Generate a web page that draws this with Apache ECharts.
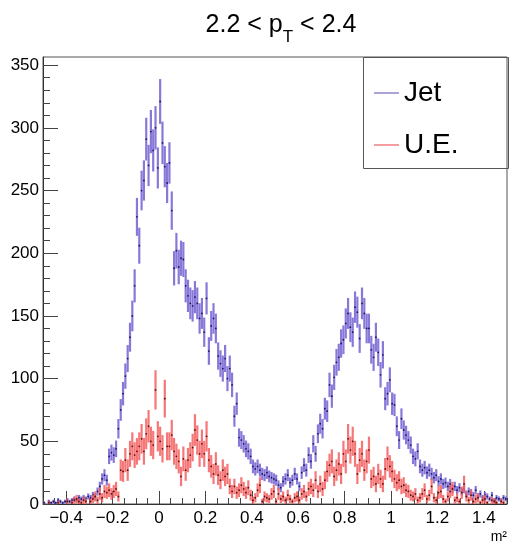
<!DOCTYPE html>
<html><head><meta charset="utf-8">
<script src="https://cdn.jsdelivr.net/npm/echarts@6/dist/echarts.min.js"></script>
<style>html,body{margin:0;padding:0;background:#fff}#c{width:510px;height:547px}</style>
</head><body><div id="c"></div>
<script>
// Histogram: 200 bins of width 0.01 from -0.5 to 1.5
const binStart = -0.5;
const binWidth = 0.01;

const jetCounts = [
  1,0,2,1,2,1,3,2,1,2,
  3,2,3,4,3,5,4,5,4,6,
  5,7,6,10,14,20,23,19,38,41,
  39,44,60,75,88,102,116,133,150,174,
  229,206,250,258,291,270,297,282,300,268,
  321,288,269,256,272,234,188,202,189,196,
  195,174,166,160,158,165,160,148,152,137,
  164,122,142,148,140,118,112,108,116,100,
  108,95,70,80,53,51,48,44,42,38,
  30,28,30,27,24,23,25,22,21,20,
  19,15,13,18,20,23,17,19,24,20,
  14,25,31,27,39,34,48,40,56,64,
  60,76,74,95,86,101,113,117,128,131,
  144,152,141,137,157,153,132,160,152,140,
  140,123,117,133,121,103,119,84,88,99,
  80,79,62,51,68,59,55,51,47,38,
  36,42,30,27,29,25,27,24,21,23,
  18,20,16,17,14,16,12,14,11,13,
  10,12,8,10,9,7,11,6,8,5,
  7,6,4,7,3,5,4,3,5,4
];

const ueCounts = [
  0,0,1,0,0,0,1,0,0,0,
  2,0,1,3,4,2,1,3,2,0,
  2,4,6,3,8,5,10,9,11,8,
  10,12,6,27,26,35,27,40,46,39,
  42,46,52,42,56,62,50,47,91,54,
  50,44,84,46,46,55,42,38,34,22,
  36,27,35,39,45,59,51,40,48,40,
  54,35,30,24,32,23,19,27,22,24,
  14,10,14,9,11,15,12,9,13,7,
  3,5,11,15,2,6,5,4,8,10,
  2,8,4,6,3,7,4,2,5,6,
  3,8,10,6,12,14,11,19,10,16,
  12,19,26,31,34,22,27,32,24,40,
  34,52,43,50,40,24,35,40,27,34,
  43,20,22,16,24,20,16,28,36,30,
  26,20,17,19,14,15,11,10,7,6,
  8,3,5,8,11,4,7,14,5,3,
  9,10,4,2,6,10,12,3,5,2,
  9,16,6,3,7,2,4,5,1,3,
  4,1,0,3,2,1,0,2,1,0
];

// U.E. histogram is weighted: error = sqrt(weight * content)
const jetWeight = 1.0;
const ueWeight = 2.7;

const seriesNames = ['Jet', 'U.E.'];
const xMajorTicks = [-0.4, -0.2, 0, 0.2, 0.4, 0.6, 0.8, 1.0, 1.2, 1.4];
const yMajorTicks = [0, 50, 100, 150, 200, 250, 300, 350];
const xMin = -0.5, xMax = 1.5, yMin = 0, yMax = 356.5;

const xMinorTicks = [];
for (let k = 0; k <= 40; k++) xMinorTicks.push(+(xMin + k * 0.05).toFixed(3));
const yMinorTicks = [];
for (let k = 0; k <= 35; k++) yMinorTicks.push(k * 10);

function toPoints(counts, w) {
  return counts.map((c, i) => [+(binStart + (i + 0.5) * binWidth).toFixed(4), c, Math.sqrt(w * c)]);
}

function errRender(barColor, dotColor) {
  return function (params, api) {
    const x = api.value(0), v = api.value(1), e = api.value(2);
    if (v <= 0) return null;
    const top = api.coord([x, v + e]);
    const bot = api.coord([x, Math.max(v - e, 0)]);
    const c = api.coord([x, v]);
    return {
      type: 'group',
      children: [
        { type: 'line', shape: { x1: top[0], y1: top[1], x2: bot[0], y2: bot[1] }, style: { stroke: barColor, lineWidth: 2.2 } },
        { type: 'circle', shape: { cx: c[0], cy: c[1], r: 0.9 }, style: { fill: dotColor } }
      ]
    };
  };
}

const fmt = v => {
  const r = Math.round(v * 10) / 10;
  const s = String(Math.abs(r));
  return r < 0 ? '\u2212' + s : s;
};

const FONT = 'Liberation Sans, Arial, sans-serif';
const legendLine = 'path://M0,9.25 L25,9.25 L25,10.75 L0,10.75 Z M0,0 L0.01,0 L0.01,0.01 Z M25,20 L24.99,20 L24.99,19.99 Z';

const chart = echarts.init(document.getElementById('c'), null, { renderer: 'canvas' });
chart.setOption({
  backgroundColor: '#fff',
  animation: false,
  title: {
    text: '{a|2.2 < p}{s|T}{a| < 2.4}',
    left: 276, top: 3, textAlign: 'center',
    textStyle: {
      fontWeight: 'normal',
      rich: {
        a: { fontFamily: FONT, fontSize: 25, fontWeight: 'normal', color: '#000', verticalAlign: 'bottom', lineHeight: 30 },
        s: { fontFamily: FONT, fontSize: 17, fontWeight: 'normal', color: '#000', verticalAlign: 'bottom', lineHeight: 30, padding: [0, 0, -8, 0] }
      }
    }
  },
  legend: {
    orient: 'vertical',
    left: 369, top: 73,
    itemWidth: 25, itemHeight: 20, itemGap: 22,
    itemStyle: { borderWidth: 0 },
    textStyle: { fontFamily: FONT, fontSize: 28, color: '#000', lineHeight: 30 },
    data: [
      { name: 'Jet', icon: legendLine, itemStyle: { color: '#8f88c9', borderWidth: 0 } },
      { name: 'U.E.', icon: legendLine, itemStyle: { color: '#f08080', borderWidth: 0 } }
    ]
  },
  graphic: [
    { type: 'rect', left: 363, top: 57, shape: { width: 145, height: 111 }, style: { fill: 'rgba(255,255,255,0)', stroke: '#555', lineWidth: 1 }, z: 10 }
  ],
  grid: { left: 43, right: 2, top: 57, bottom: 43, show: true, borderColor: '#555', borderWidth: 1, backgroundColor: '#fff' },
  xAxis: [
    {
      type: 'value', min: xMin, max: xMax,
      name: 'm\u00b2', nameLocation: 'end', nameGap: 0,
      nameTextStyle: { fontFamily: FONT, fontSize: 14, color: '#000', align: 'right', verticalAlign: 'top', padding: [26, 0, 0, 0] },
      axisLine: { show: true, onZero: false, lineStyle: { color: '#333', width: 1 } },
      axisTick: { show: true, inside: true, length: 13, customValues: xMajorTicks, lineStyle: { color: '#444' } },
      axisLabel: { show: true, customValues: xMajorTicks, formatter: fmt, margin: 6, fontFamily: FONT, fontSize: 17, color: '#000' },
      splitLine: { show: false }
    },
    {
      type: 'value', min: xMin, max: xMax, position: 'bottom',
      axisLine: { show: false, onZero: false },
      axisTick: { show: true, inside: true, length: 6, customValues: xMinorTicks, lineStyle: { color: '#444' } },
      axisLabel: { show: false },
      splitLine: { show: false }
    }
  ],
  yAxis: [
    {
      type: 'value', min: yMin, max: yMax,
      axisLine: { show: true, onZero: false, lineStyle: { color: '#333', width: 1 } },
      axisTick: { show: true, inside: true, length: 15, customValues: yMajorTicks, lineStyle: { color: '#444' } },
      axisLabel: { show: true, customValues: yMajorTicks, margin: 4, fontFamily: FONT, fontSize: 17, color: '#000' },
      splitLine: { show: false }
    },
    {
      type: 'value', min: yMin, max: yMax, position: 'left',
      axisLine: { show: false, onZero: false },
      axisTick: { show: true, inside: true, length: 7, customValues: yMinorTicks, lineStyle: { color: '#444' } },
      axisLabel: { show: false },
      splitLine: { show: false }
    }
  ],
  series: [
    {
      name: seriesNames[0], type: 'custom', xAxisIndex: 0, yAxisIndex: 0, clip: true,
      itemStyle: { color: '#8f88c9', borderWidth: 0 },
      renderItem: errRender('rgba(115,98,210,0.85)', '#1b1660'),
      data: toPoints(jetCounts, jetWeight), z: 3
    },
    {
      name: seriesNames[1], type: 'custom', xAxisIndex: 0, yAxisIndex: 0, clip: true,
      itemStyle: { color: '#f08080', borderWidth: 0 },
      renderItem: errRender('rgba(245,95,95,0.85)', '#5a1010'),
      data: toPoints(ueCounts, ueWeight), z: 4
    }
  ]
});
</script>
</body></html>
